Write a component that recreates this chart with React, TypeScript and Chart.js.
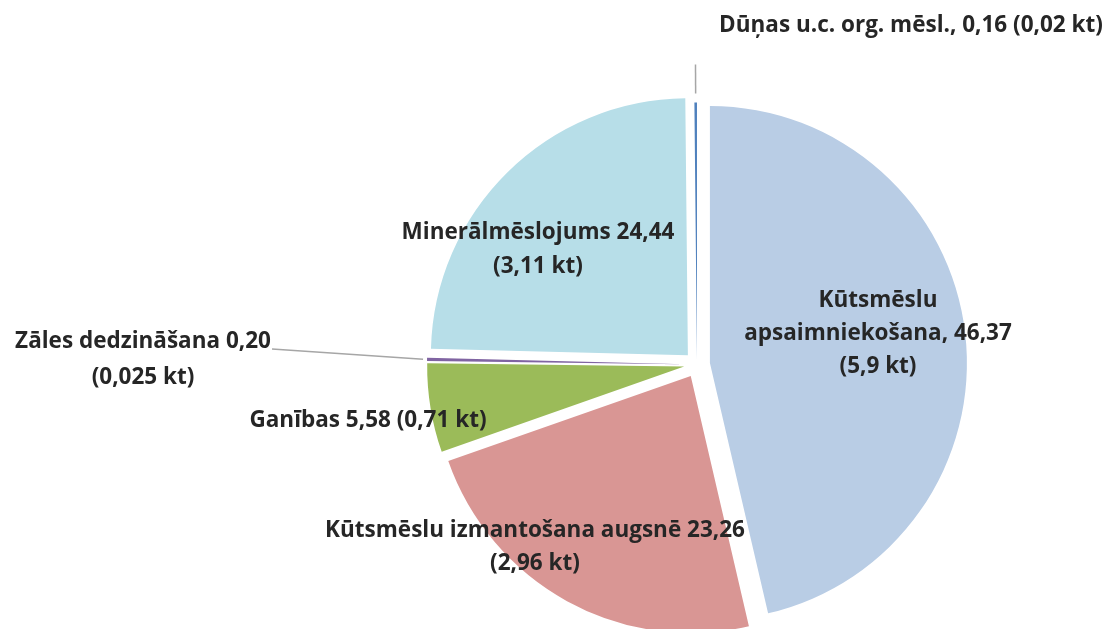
import React, { useEffect, useRef } from "react";
import { Chart, registerables } from "chart.js";

Chart.register(...registerables);

const categories = [
  "Kūtsmēslu apsaimniekošana",
  "Kūtsmēslu izmantošana augsnē",
  "Ganības",
  "Zāles dedzināšana",
  "Minerālmēslojums",
  "Dūņas u.c. org. mēsl.",
];
const shares = [46.37, 23.26, 5.58, 0.2, 24.44, 0.16];
const amountsKt = ["5,9", "2,96", "0,71", "0,025", "3,11", "0,02"];
const labelLines = [
  ["Kūtsmēslu", "apsaimniekošana, 46,37", "(5,9 kt)"],
  ["Kūtsmēslu izmantošana augsnē 23,26", "(2,96 kt)"],
  ["Ganības 5,58 (0,71 kt)"],
  ["Zāles dedzināšana 0,20", "(0,025 kt)"],
  ["Minerālmēslojums 24,44", "(3,11 kt)"],
  ["Dūņas u.c. org. mēsl., 0,16 (0,02 kt)"],
];

const colors = ["#B9CDE5", "#D99694", "#9BBB59", "#8064A2", "#B7DEE8", "#4F81BD"];
const explode = [13, 13, 13, 13, 13, 5];
// label anchor (centre of first line) relative to the pie centre, and line height
const labelLayout = [
  { dx: 181, dy: -64, lh: 33 },
  { dx: -162, dy: 166, lh: 33 },
  { dx: -329, dy: 56, lh: 33 },
  { dx: -554, dy: -23, lh: 36 },
  { dx: -159, dy: -132, lh: 34 },
  { dx: 214, dy: -339, lh: 33 },
];
// leader lines: start radius along slice mid-angle, end point relative to centre
const leaders: Record<number, { r: number; ex?: number; ey?: number; r2?: number }> = {
  3: { r: 274, ex: -425, ey: -15.5 },
  5: { r: 271, r2: 300 },
};

const FONT = "bold 22.5px 'Open Sans'";
const TEXT = "#262626";

const explodePlugin = {
  id: "explodeSlices",
  beforeDatasetDraw(chart: any, args: any) {
    const ctx = chart.ctx;
    args.meta.data.forEach((arc: any, i: number) => {
      const mid = (arc.startAngle + arc.endAngle) / 2;
      const e = explode[i] || 0;
      ctx.save();
      ctx.translate(Math.cos(mid) * e, Math.sin(mid) * e);
      arc.draw(ctx);
      ctx.restore();
    });
    return false;
  },
};

const labelPlugin = {
  id: "sliceLabels",
  afterDatasetsDraw(chart: any) {
    const ctx = chart.ctx;
    const meta = chart.getDatasetMeta(0);
    ctx.save();
    meta.data.forEach((arc: any, i: number) => {
      const cx = arc.x;
      const cy = arc.y;
      const mid = (arc.startAngle + arc.endAngle) / 2;
      const ld = leaders[i];
      if (ld) {
        ctx.strokeStyle = "#A6A6A6";
        ctx.lineWidth = 1.5;
        ctx.beginPath();
        ctx.moveTo(cx + Math.cos(mid) * ld.r, cy + Math.sin(mid) * ld.r);
        if (ld.r2 !== undefined) {
          ctx.lineTo(cx + Math.cos(mid) * ld.r2, cy + Math.sin(mid) * ld.r2);
        } else {
          ctx.lineTo(cx + (ld.ex as number), cy + (ld.ey as number));
        }
        ctx.stroke();
      }
      const lay = labelLayout[i];
      ctx.font = FONT;
      ctx.fillStyle = TEXT;
      ctx.textAlign = "center";
      ctx.textBaseline = "middle";
      labelLines[i].forEach((t, k) => {
        ctx.fillText(t, cx + lay.dx, cy + lay.dy + k * lay.lh);
      });
    });
    ctx.restore();
  },
};

export default function App() {
  const ref = useRef<HTMLCanvasElement | null>(null);
  useEffect(() => {
    if (!ref.current) return;
    const chart = new Chart(ref.current, {
      type: "pie",
      data: {
        labels: categories,
        datasets: [
          {
            data: shares,
            backgroundColor: colors,
            borderWidth: 0,
            radius: 257,
            clip: false,
          } as any,
        ],
      },
      options: {
        responsive: false,
        animation: false,
        devicePixelRatio: 1,
        layout: { padding: { left: 282, right: 0, top: 100, bottom: 0 } },
        plugins: {
          legend: { display: false },
          tooltip: { enabled: false },
        },
        events: [],
      },
      plugins: [explodePlugin, labelPlugin],
    });
    return () => chart.destroy();
  }, []);
  return (
    <div style={{ position: "absolute", left: 0, top: 0, width: 1112, height: 629, background: "#fff" }}>
      <canvas ref={ref} width={1112} height={629} />
    </div>
  );
}
